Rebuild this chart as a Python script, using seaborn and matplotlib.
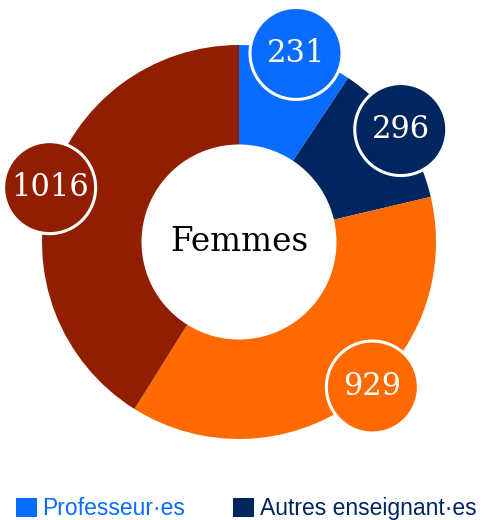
import numpy as np
import matplotlib.pyplot as plt
import seaborn as sns
from matplotlib.patches import Circle, Patch

values = [231, 296, 929, 1016]
colors = ["#0a6cff", "#00265f", "#ff6a00", "#911e00"]
legend_labels = ["Professeur·es", "Autres enseignant·es"]
label_shift = [0, 0, 7, 0]  # degrees, nudge for badge placement
center_label = "Femmes"

sns.set_theme(style="white")
plt.rcParams["font.family"] = ["DejaVu Sans"]

fig = plt.figure(figsize=(4.82, 5.20), dpi=100)
cx, cy, R = 239, 242, 197
half = 235
ax = fig.add_axes([(cx - half) / 482, (520 - cy - half) / 520, 2 * half / 482, 2 * half / 520])

wedges, _ = ax.pie(values, colors=colors, startangle=90, counterclock=False,
                   radius=1.0, wedgeprops=dict(width=0.505, linewidth=0))

lim = half / R
ax.set_xlim(-lim, lim)
ax.set_ylim(-lim, lim)
ax.set_aspect("equal")
ax.axis("off")

for w, v, c, s in zip(wedges, values, colors, label_shift):
    ang = np.deg2rad((w.theta1 + w.theta2) / 2 + s)
    x, y = 1.0 * np.cos(ang), 1.0 * np.sin(ang)
    ax.add_patch(Circle((x, y), 46 / R, facecolor=c, edgecolor="white",
                        linewidth=2.2, zorder=5, clip_on=False))
    ax.text(x, y, str(v), ha="center", va="center", color="white",
            fontsize=22, family="DejaVu Serif", zorder=6)

ax.text(0, 0, center_label, ha="center", va="center", color="black",
        fontsize=23.5, family="DejaVu Serif")

handles = [Patch(facecolor=c, edgecolor="none") for c in colors[:len(legend_labels)]]
leg = fig.legend(handles, legend_labels, ncol=2, loc="lower left",
                 bbox_to_anchor=(0.033, 0.0), frameon=False,
                 prop={"family": "Liberation Sans", "size": 16.5},
                 handlelength=0.9, handleheight=0.9,
                 handletextpad=0.25, columnspacing=2.1,
                 borderaxespad=0, borderpad=0)
for t, c in zip(leg.get_texts(), colors):
    t.set_color(c)

fig.savefig("out.png", dpi=100)
